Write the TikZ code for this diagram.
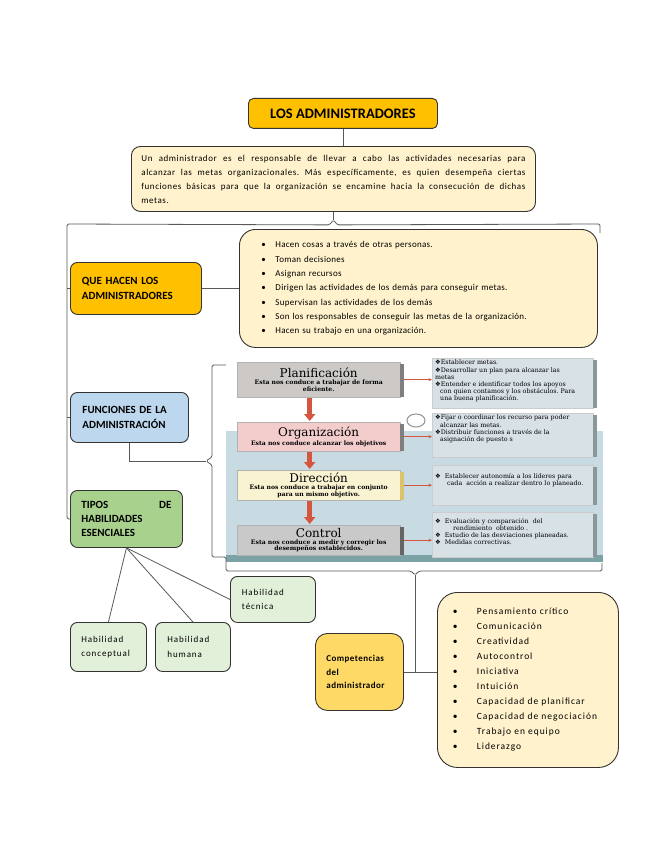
\documentclass[tikz,border=0pt]{standalone}
\usepackage{fontspec}
\setmainfont{Carlito}
\newfontfamily\spaced[LetterSpace=10]{Carlito}
\newfontfamily\spacedb[LetterSpace=5]{Carlito}
\newfontfamily\spacedc[LetterSpace=3]{Carlito}
\newfontfamily\spacedi[LetterSpace=6]{Carlito}
\newfontfamily\serifp{DejaVu Serif}
\newfontfamily\djsans{DejaVu Sans}
\usetikzlibrary{arrows.meta,calc}
\definecolor{gold}{HTML}{FFC000}
\definecolor{cream}{HTML}{FFF2CC}
\definecolor{gold2}{HTML}{FFD966}
\definecolor{lblue}{HTML}{BDD7EE}
\definecolor{lgreen}{HTML}{A9D18E}
\definecolor{pgreen}{HTML}{E2F0D9}
\definecolor{conncol}{HTML}{595959}
\definecolor{panelbg}{HTML}{C8DAE2}
\definecolor{tealc}{HTML}{7BA3A6}
\definecolor{arrred}{HTML}{D5563F}
\definecolor{planc}{HTML}{CDC9C7}
\definecolor{orgc}{HTML}{F3CCCC}
\definecolor{dirc}{HTML}{FAF3D2}
\definecolor{ctrlc}{HTML}{C9C9C9}
\definecolor{stripec}{HTML}{7F7F7F}
\definecolor{dirstripe}{HTML}{D9C36E}
\definecolor{detailc}{HTML}{D8E1E6}
\definecolor{detailstripe}{HTML}{8C979C}
\newcommand{\mydia}{{\djsans ❖}}
\newcommand{\hbul}{\makebox[14pt][l]{\textbullet}}
\newcommand{\cbul}{\makebox[24pt][l]{\textbullet}}
\frenchspacing
\begin{document}
\begin{tikzpicture}[x=1pt,y=-1pt,
  box/.style={draw=black!80, line width=0.9pt, rounded corners=7pt, inner sep=0pt, anchor=north west},
  conn/.style={draw=conncol, line width=0.8pt},
  lbox/.style={anchor=north west, inner sep=0pt, minimum width=163pt, text width=162pt, align=flush center, draw=black!30, line width=0.4pt, font=\serifp},
  dbox/.style={anchor=north west, inner sep=0pt, minimum width=161pt, fill=detailc, draw=black!20, line width=0.4pt},
  dtext/.style={anchor=north west, inner sep=0pt, align=left, font=\serifp\fontsize{6.3}{7.1}\selectfont},
  redarr/.style={draw=arrred, line width=4.5pt, -{Triangle[width=11pt,length=7pt]}},
  thinred/.style={draw=arrred, line width=0.7pt, -{Stealth[length=3.5pt,width=3pt]}},
  sub/.style={},
]
\useasboundingbox (0,0) rectangle (655,848);
\fill[white] (0,0) rectangle (655,848);

% ---------- top ----------
\node[box, fill=gold, rounded corners=5pt, minimum width=189pt, minimum height=30pt,
      font=\bfseries\fontsize{14.5}{16}\selectfont] (title) at (248,98) {LOS ADMINISTRADORES};
\node[box, fill=cream, rounded corners=9pt, minimum width=404pt, minimum height=65pt,
      text width=384pt, align=justify, font=\spacedi\fontsize{9}{14}\selectfont] (intro) at (131,146)
 {Un administrador es el responsable de llevar a cabo las actividades necesarias para\linebreak
  alcanzar las metas organizacionales. Más específicamente, es quien desempeña ciertas\linebreak
  funciones básicas para que la organización se encamine hacia la consecución de dichas\linebreak
  metas.};
\draw[conn] (title.south) -- (title.south |- intro.north);

% ---------- left column ----------
\node[box, fill=gold, minimum width=131pt, minimum height=52pt, text width=108pt, align=left,
      font=\bfseries\fontsize{11}{15}\selectfont] (qh) at (70,262) {QUE HACEN LOS\\ADMINISTRADORES};
\node[box, fill=cream, rounded corners=16pt, minimum width=358pt, minimum height=118pt,
      text width=314pt, align=left, font=\spacedc\fontsize{9}{14.3}\selectfont] (hacen) at (239,229)
 {\hbul Hacen cosas a través de otras personas.\\
  \hbul Toman decisiones\\
  \hbul Asignan recursos\\
  \hbul Dirigen las actividades de los demás para conseguir metas.\\
  \hbul Supervisan las actividades de los demás\\
  \hbul Son los responsables de conseguir las metas de la organización.\\
  \hbul Hacen su trabajo en una organización.};
\node[box, fill=lblue, minimum width=118pt, minimum height=50pt, text width=94pt, align=left,
      font=\bfseries\fontsize{11}{15}\selectfont] (fun) at (70,392) {FUNCIONES DE LA\\ADMINISTRACIÓN};
\node[box, fill=lgreen, minimum width=112pt, minimum height=57pt, text width=90pt, align=left,
      font=\bfseries\fontsize{11}{14}\selectfont] (tipos) at (70,490) {TIPOS\hfill DE\\HABILIDADES\\ESENCIALES};

\node[box, fill=pgreen, minimum width=85pt, minimum height=46pt, text width=62pt, align=left,
      font=\spaced\fontsize{9}{14.5}\selectfont] (tec) at (230,576) {Habilidad\\técnica};
\node[box, fill=pgreen, minimum width=76pt, minimum height=49pt, text width=54pt, align=left,
      font=\spaced\fontsize{9}{14.5}\selectfont] (conc) at (70,622) {Habilidad\\conceptual};
\node[box, fill=pgreen, minimum width=75pt, minimum height=49pt, text width=51pt, align=left,
      font=\spaced\fontsize{9}{14.5}\selectfont] (hum) at (155,622) {Habilidad\\humana};

\node[box, fill=gold2, rounded corners=12pt, minimum width=88pt, minimum height=77pt, text width=66pt,
      align=left, font=\spacedb\bfseries\fontsize{9}{13.5}\selectfont] (comp) at (315,633)
 {Competencias\\del\\administrador};
\node[box, fill=cream, rounded corners=20pt, minimum width=181pt, minimum height=175pt, text width=150pt,
      align=left, font=\spaced\fontsize{9.5}{15}\selectfont] (cl) at (437,592)
 {\cbul Pensamiento crítico\\
  \cbul Comunicación\\
  \cbul Creatividad\\
  \cbul Autocontrol\\
  \cbul Iniciativa\\
  \cbul Intuición\\
  \cbul Capacidad de planificar\\
  \mbox{\cbul Capacidad de negociación}\\
  \cbul Trabajo en equipo\\
  \cbul Liderazgo};

% ---------- panel (picture) ----------
\fill[panelbg] (226,431) rectangle (603,556);
\fill[tealc] (226,555) rectangle (603,562);

\node[lbox, fill=planc, minimum height=35pt] (plan) at (237,362)
 {{\fontsize{12}{13}\selectfont Planificación\par}\vspace{0.5pt}
  {\bfseries\fontsize{6.1}{6.6}\selectfont Esta nos conduce a trabajar de forma\\eficiente.\par}};
\node[lbox, fill=orgc, minimum height=29pt] (org) at (237,422)
 {{\fontsize{12}{13}\selectfont Organización\par}\vspace{0.5pt}
  {\bfseries\fontsize{6.1}{6.6}\selectfont Esta nos conduce alcanzar los objetivos\par}};
\node[lbox, fill=dirc, minimum height=30pt] (dir) at (237,470)
 {{\fontsize{12}{13}\selectfont Dirección\par}\vspace{0.5pt}
  {\bfseries\fontsize{6.1}{6.6}\selectfont Esta nos conduce a trabajar en conjunto\\para un mismo objetivo.\par}};
\node[lbox, fill=ctrlc, minimum height=30pt] (ctrl) at (237,525)
 {{\fontsize{12}{13}\selectfont Control\par}\vspace{0.5pt}
  {\bfseries\fontsize{6.1}{6.6}\selectfont Esta nos conduce a medir y corregir los\\desempeños establecidos.\par}};
\fill[stripec] ($(plan.north east)+(0,2)$) rectangle ($(plan.south east)+(4,0)$);
\fill[stripec] ($(org.north east)+(0,2)$) rectangle ($(org.south east)+(4,0)$);
\fill[dirstripe] ($(dir.north east)+(0,2)$) rectangle ($(dir.south east)+(4,0)$);
\fill[stripec!80!black] ($(ctrl.north east)+(0,2)$) rectangle ($(ctrl.south east)+(4,0)$);

\draw[redarr] ($(plan.south)+(-9,1)$) -- ($(org.north)+(-9,-1)$);
\draw[redarr] ($(org.south)+(-9,1)$) -- ($(dir.north)+(-9,-1)$);
\draw[redarr] ($(dir.south)+(-9,1)$) -- ($(ctrl.north)+(-9,-1)$);

\node[dbox, minimum height=50pt] (planD) at (432,358) {};
\node[dbox, minimum height=44pt] (orgD) at (432,413) {};
\node[dbox, minimum height=40pt] (dirD) at (432,465) {};
\node[dbox, minimum height=45pt] (ctrlD) at (432,512) {};
\foreach \d in {planD,orgD,dirD,ctrlD}
  \fill[detailstripe] ($(\d.north east)+(0,2)$) rectangle ($(\d.south east)+(4,0)$);

\draw[gray!85, line width=1pt] (416,420.5) ellipse [x radius=9pt, y radius=6.5pt];

\draw[thinred] ($(plan.east)+(4,0)$) -- (plan.east -| planD.west);
\draw[thinred] ($(org.east)+(4,0)$) -- (org.east -| orgD.west);
\draw[thinred] ($(dir.east)+(4,0)$) -- (dir.east -| dirD.west);
\draw[thinred] ($(ctrl.east)+(4,0)$) -- (ctrl.east -| ctrlD.west);

\node[dtext] (planT) at ($(planD.north west)+(3,2)$)
 {\mydia Establecer metas.\\
  \mydia Desarrollar un plan para alcanzar las\\
  metas\\
  \mydia Entender e identificar todos los apoyos\\
  \hspace*{5pt}con quien contamos y los obstáculos. Para\\
  \hspace*{5pt}una buena planificación.};
\node[dtext] (orgT) at ($(orgD.north west)+(3,2)$)
 {\mydia Fijar o coordinar los recurso para poder\\
  \hspace*{5pt}alcanzar las metas.\\
  \mydia Distribuir funciones a través de la\\
  \hspace*{5pt}asignación de puesto s};
\node[dtext] (dirT) at ($(dirD.north west)+(3,8)$)
 {\mydia\hspace{4pt}Establecer autonomía a los líderes para\\
  \hspace*{12pt}cada \ acción a realizar dentro lo planeado.};
\node[dtext] (ctrlT) at ($(ctrlD.north west)+(3,6)$)
 {\mydia\hspace{4pt}Evaluación y comparación \ del\\
  \hspace*{18pt}rendimiento \ obtenido .\\
  \mydia\hspace{4pt}Estudio de las desviaciones planeadas.\\
  \mydia\hspace{4pt}Medidas correctivas.};

% ---------- connectors ----------
\coordinate (btip) at ($(intro.south)+(0,8)$);
\coordinate (bL) at (67,224);
\coordinate (bR) at (600,224);
\draw[conn] (intro.south) -- (btip);
\draw[conn, rounded corners=1.5pt] (600,233) -- (bR) -- ($(btip)+(4,5)$) -- (btip)
   -- ($(btip)+(-4,5)$) -- (bL) -- (bL |- tipos.west) -- (tipos.west);
\draw[conn] (bL |- qh.west) -- (qh.west);
\draw[conn] (bL |- fun.west) -- (fun.west);
\draw[conn] (qh.east) -- (qh.east -| hacen.west);

\coordinate (fb) at (206,461);
\coordinate (bm) at (415,575);
\draw[conn] (fun.south) |- (fb);
\draw[conn, rounded corners=1.5pt] (226,365) -- (212,365) -- (212,457) -- (fb) -- (212,465)
   -- (212,557) -- (226,557) -- (226,571) -- (411,571) -- (bm) -- (419,571) -- (602,571) -- (602,563);
\draw[conn] (bm) -- (bm |- comp.east);
\draw[conn] (comp.east) -- (comp.east -| cl.west);

\draw[conn] (tipos.south) -- (conc.north);
\draw[conn] (tipos.south) -- (hum.north);
\draw[conn] (tipos.south) -- (tec.west);
\end{tikzpicture}
\end{document}
